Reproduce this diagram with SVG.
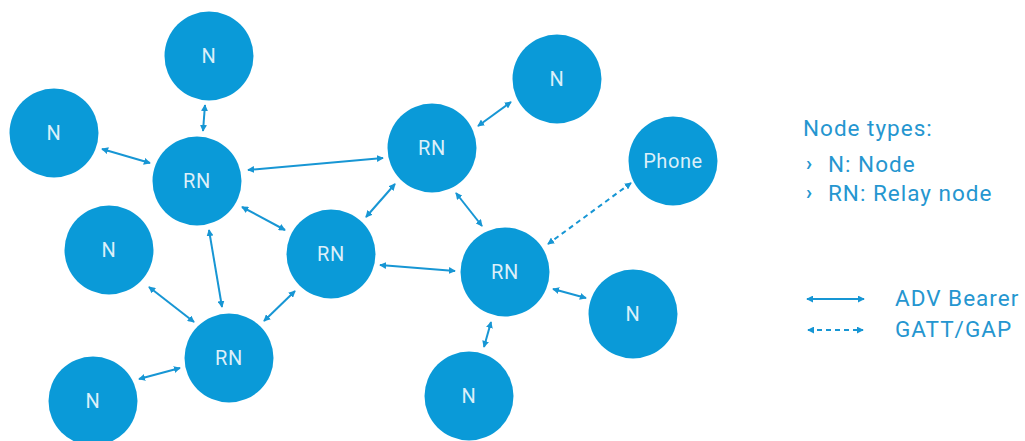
<svg xmlns="http://www.w3.org/2000/svg" width="1025" height="441" viewBox="0 0 1025 441">
  <defs>
    <marker id="tip" viewBox="0 0 8 8" refX="7" refY="4" markerWidth="7" markerHeight="7" markerUnits="userSpaceOnUse" orient="auto-start-reverse">
      <path d="M0,0 L8,4 L0,8 Z" fill="#1796d4"/>
    </marker>
  </defs>
  <style>
    .node { fill: #0a9ad8; }
    .lbl { fill: #dceff9; font-family: Roboto, "Liberation Sans", sans-serif; font-size: 20px; letter-spacing: 0.6px; text-anchor: middle; dominant-baseline: central; }
    .link { stroke: #1796d4; stroke-width: 2; fill: none; marker-start: url(#tip); marker-end: url(#tip); }
    .dash { stroke-dasharray: 5 4; }
    .legend { fill: #2596d0; font-family: Roboto, "Liberation Sans", sans-serif; font-size: 22.5px; letter-spacing: 1px; }
    .chev { fill: #2596d0; font-family: Roboto, "Liberation Sans", sans-serif; font-size: 20px; font-weight: bold; }
  </style>
  <rect width="1025" height="441" fill="#ffffff"/>

  <!-- connectors -->
  <g id="connectors">
    <line class="link" x1="205" y1="105" x2="203" y2="131"/>
    <line class="link" x1="102" y1="149" x2="150" y2="163"/>
    <line class="link" x1="248" y1="170" x2="383" y2="158"/>
    <line class="link" x1="242" y1="207" x2="285" y2="230"/>
    <line class="link" x1="478" y1="126" x2="511" y2="102"/>
    <line class="link" x1="395" y1="184" x2="366" y2="217"/>
    <line class="link" x1="456" y1="193" x2="482" y2="226"/>
    <line class="link dash" x1="631" y1="183" x2="548" y2="244"/>
    <line class="link" x1="380" y1="265" x2="455" y2="271"/>
    <line class="link" x1="553" y1="289" x2="586" y2="298"/>
    <line class="link" x1="491" y1="322" x2="484" y2="347"/>
    <line class="link" x1="209" y1="230" x2="222" y2="307"/>
    <line class="link" x1="149" y1="287" x2="194" y2="322"/>
    <line class="link" x1="295" y1="291" x2="264" y2="321"/>
    <line class="link" x1="139" y1="379" x2="180" y2="368"/>
  </g>

  <!-- nodes -->
  <g id="n-top"><circle class="node" cx="209" cy="56" r="44.5"/><text class="lbl" x="209" y="56">N</text></g>
  <g id="n-left"><circle class="node" cx="54" cy="133" r="44.5"/><text class="lbl" x="54" y="133">N</text></g>
  <g id="rn-upper-left"><circle class="node" cx="197" cy="181" r="44.5"/><text class="lbl" x="197" y="181">RN</text></g>
  <g id="rn-upper-mid"><circle class="node" cx="432" cy="148" r="44.5"/><text class="lbl" x="432" y="148">RN</text></g>
  <g id="n-upper-right"><circle class="node" cx="557" cy="79" r="44.5"/><text class="lbl" x="557" y="79">N</text></g>
  <g id="phone"><circle class="node" cx="673" cy="161" r="44.5"/><text class="lbl" x="673" y="161">Phone</text></g>
  <g id="n-mid-left"><circle class="node" cx="109" cy="250" r="44.5"/><text class="lbl" x="109" y="250">N</text></g>
  <g id="rn-center"><circle class="node" cx="331" cy="254" r="44.5"/><text class="lbl" x="331" y="254">RN</text></g>
  <g id="rn-right"><circle class="node" cx="505" cy="272" r="44.5"/><text class="lbl" x="505" y="272">RN</text></g>
  <g id="rn-lower"><circle class="node" cx="229" cy="358" r="44.5"/><text class="lbl" x="229" y="358">RN</text></g>
  <g id="n-bottom-left"><circle class="node" cx="93" cy="401" r="44.5"/><text class="lbl" x="93" y="401">N</text></g>
  <g id="n-lower-right"><circle class="node" cx="633" cy="314" r="44.5"/><text class="lbl" x="633" y="314">N</text></g>
  <g id="n-bottom"><circle class="node" cx="469" cy="396" r="44.5"/><text class="lbl" x="469" y="396">N</text></g>

  <!-- legend -->
  <g id="legend">
    <text class="legend" x="803" y="136">Node types:</text>
    <text class="chev" x="806" y="170">›</text>
    <text class="legend" x="828" y="172">N: Node</text>
    <text class="chev" x="806" y="199">›</text>
    <text class="legend" x="828" y="201">RN: Relay node</text>
    <line class="link" x1="807" y1="299" x2="864" y2="299"/>
    <text class="legend" x="895" y="306">ADV Bearer</text>
    <line class="link dash" x1="808" y1="330" x2="863" y2="330"/>
    <text class="legend" x="895" y="337">GATT/GAP</text>
  </g>
</svg>
